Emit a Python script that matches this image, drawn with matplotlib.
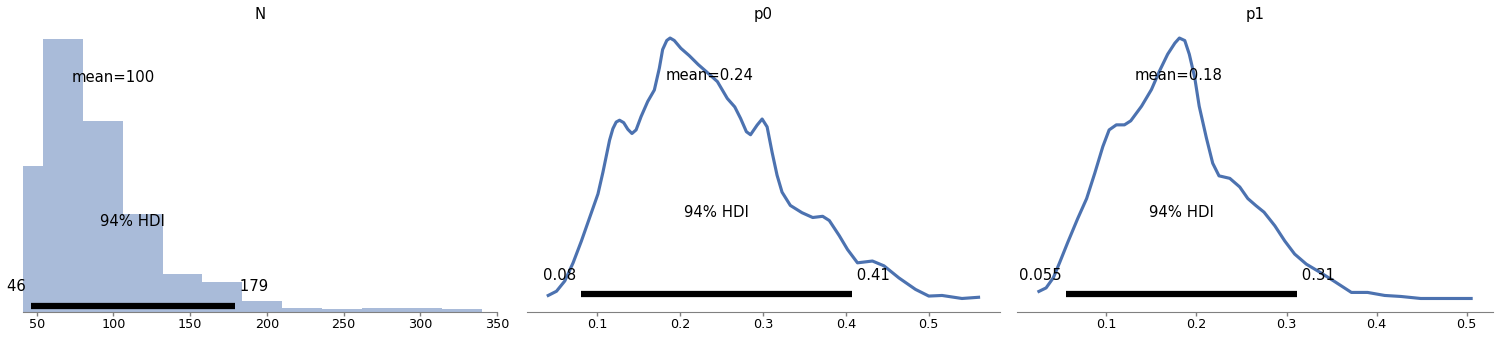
import numpy as np
import matplotlib
matplotlib.use("Agg")
import matplotlib.pyplot as plt

# --- N : discrete posterior, drawn as histogram ---
n_bin_edges = [28, 54, 80, 106, 132, 158, 184, 210, 236, 262, 288, 314, 340]
n_counts = [583, 1095, 763, 391, 151, 119, 43, 15, 11, 15, 15, 11]
n_mean = 100
n_hdi = [46, 179]
n_labels = ["100", "46", "179"]

# --- p0 : kde ---
p0_x = [0.041, 0.051, 0.061, 0.071, 0.081, 0.091, 0.101, 0.107, 0.115, 0.119,
        0.123, 0.127, 0.132, 0.137, 0.142, 0.147, 0.153, 0.161, 0.169, 0.175,
        0.179, 0.184, 0.188, 0.193, 0.201, 0.211, 0.222, 0.232, 0.245, 0.251,
        0.257, 0.266, 0.273, 0.280, 0.285, 0.293, 0.299, 0.305, 0.311, 0.317,
        0.323, 0.333, 0.347, 0.360, 0.372, 0.380, 0.392, 0.402, 0.414, 0.432,
        0.446, 0.464, 0.484, 0.500, 0.516, 0.540, 0.560]
p0_density = [0.07, 0.14, 0.31, 0.61, 0.97, 1.36, 1.75, 2.11, 2.64, 2.83,
              2.94, 2.97, 2.93, 2.82, 2.75, 2.81, 3.03, 3.28, 3.47, 3.83,
              4.14, 4.29, 4.33, 4.29, 4.16, 4.04, 3.89, 3.77, 3.61, 3.47,
              3.33, 3.19, 3.00, 2.78, 2.73, 2.89, 2.99, 2.86, 2.44, 2.06,
              1.78, 1.56, 1.44, 1.36, 1.38, 1.31, 1.06, 0.83, 0.61, 0.64,
              0.56, 0.36, 0.17, 0.06, 0.07, 0.02, 0.04]
p0_mean = 0.236
p0_hdi = [0.080, 0.407]
p0_labels = ["0.24", "0.08", "0.41"]

# --- p1 ---
p1_x = [0.025, 0.033, 0.041, 0.048, 0.057, 0.068, 0.078, 0.087, 0.096, 0.103,
        0.111, 0.120, 0.127, 0.139, 0.150, 0.159, 0.168, 0.176, 0.181, 0.187,
        0.192, 0.198, 0.203, 0.211, 0.218, 0.225, 0.237, 0.248, 0.257, 0.266,
        0.275, 0.287, 0.298, 0.309, 0.322, 0.338, 0.353, 0.372, 0.390, 0.409,
        0.427, 0.449, 0.475, 0.505]
p1_density = [0.16, 0.23, 0.43, 0.73, 1.13, 1.60, 2.00, 2.50, 3.03, 3.36,
              3.46, 3.46, 3.54, 3.83, 4.16, 4.53, 4.86, 5.08, 5.18, 5.13,
              4.86, 4.40, 3.83, 3.20, 2.70, 2.45, 2.40, 2.23, 2.00, 1.86,
              1.73, 1.46, 1.16, 0.90, 0.70, 0.53, 0.36, 0.14, 0.14, 0.08,
              0.06, 0.02, 0.02, 0.02]
p1_mean = 0.180
p1_hdi = [0.0553, 0.3117]
p1_labels = ["0.18", "0.055", "0.31"]

hdi_prob_txt = "94% HDI"
linea = 2.25
txt_size = 10.7
color_c0 = "#4c72b0"


def formato_ejes(ax):
    ax.yaxis.set_ticks([])
    for s in ["top", "right", "left"]:
        ax.spines[s].set_visible(False)
    ax.spines["bottom"].set_color("0.5")
    ax.xaxis.set_ticks_position("bottom")
    ax.tick_params(axis="x", direction="out", width=1, length=3, color="0.5",
                   labelsize=9.2, pad=2)


def anotar(ax, titulo, media, hdi, etiquetas):
    """HDI bar + texts placed like arviz does, relative to top of ylim"""
    alto = ax.get_ylim()[1]
    formato_ejes(ax)
    ax.plot(hdi, (alto * 0.02, alto * 0.02), lw=linea * 2, color="k",
            solid_capstyle="butt")
    ax.text(hdi[0], alto * 0.07, etiquetas[1] + " ", size=txt_size,
            horizontalalignment="right")
    ax.text(hdi[1], alto * 0.07, " " + etiquetas[2], size=txt_size,
            horizontalalignment="left")
    ax.text((hdi[0] + hdi[1]) / 2, alto * 0.3, hdi_prob_txt, size=txt_size,
            horizontalalignment="center")
    ax.text(media, alto * 0.8, "mean=" + etiquetas[0], size=txt_size,
            horizontalalignment="center")
    ax.set_title(titulo, fontsize=txt_size, pad=4)


fig = plt.figure(figsize=(14.98, 3.39), dpi=100)
abajo, alto_ax = 0.0811, 0.8451
ax1 = fig.add_axes([0.01535, abajo, 0.3164, alto_ax])
ax2 = fig.add_axes([0.3516, abajo, 0.3160, alto_ax])
ax3 = fig.add_axes([0.6791, abajo, 0.3174, alto_ax])

# N
ax1.bar(n_bin_edges[:-1], n_counts, width=np.diff(n_bin_edges), align="edge",
        color=color_c0, alpha=0.48, linewidth=0)
ax1.set_xlim(41, 350)
anotar(ax1, "N", n_mean, n_hdi, n_labels)

# p0
ax2.plot(p0_x, p0_density, color=color_c0, lw=linea, solid_joinstyle="round")
anotar(ax2, "p0", p0_mean, p0_hdi, p0_labels)

# p1
ax3.plot(p1_x, p1_density, color=color_c0, lw=linea, solid_joinstyle="round")
anotar(ax3, "p1", p1_mean, p1_hdi, p1_labels)

fig.savefig("out.png", dpi=100)
